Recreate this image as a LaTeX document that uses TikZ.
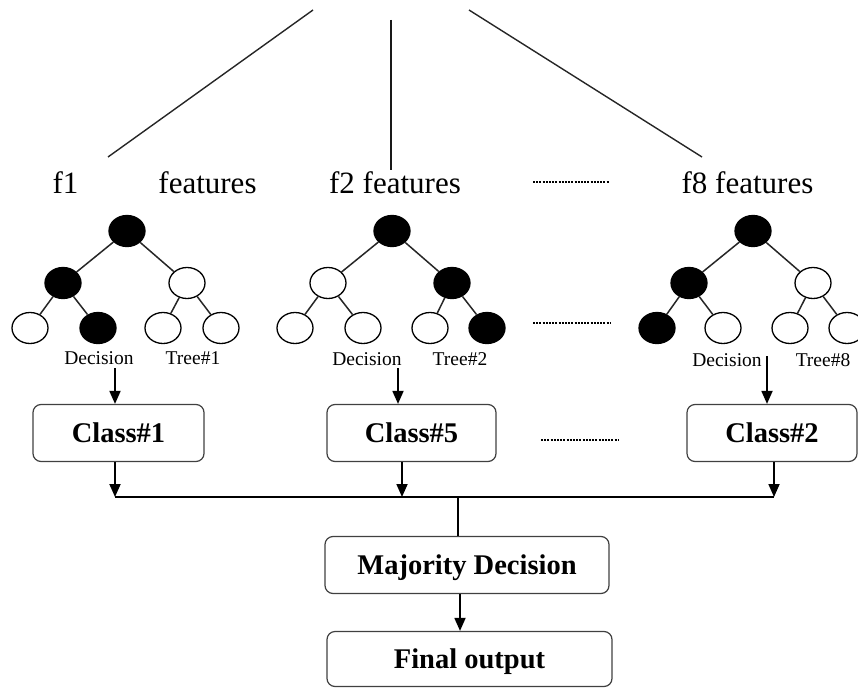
\documentclass[tikz,border=0pt]{standalone}
\usepackage{fontspec}
\setmainfont{Liberation Serif}
\usetikzlibrary{shapes.geometric,arrows.meta}

\tikzset{
  leaf/.style={ellipse, draw=black, line width=1.3pt, fill=white,
    minimum width=36pt, minimum height=31pt, inner sep=0pt},
  hit/.style={leaf, fill=black},
  branch/.style={line width=1.5pt, black!85},
  spoke/.style={line width=1.4pt, black!85},
  stem/.style={line width=1.1pt, black!90},
  title/.style={font=\fontsize{31}{34}\selectfont, anchor=base, inner sep=0pt},
  tag/.style={font=\fontsize{19.5}{21}\selectfont, anchor=base, inner sep=0pt},
  stage/.style={draw=black!75, line width=1.2pt, rounded corners=8pt,
    font=\bfseries\fontsize{28.5}{30}\selectfont, text height=19pt, text depth=0pt,
    inner sep=0pt, minimum height=57pt},
  flow/.style={line width=1.8pt, -{Triangle[length=13pt,width=11pt]}},
  bus/.style={line width=1.4pt},
  etc/.style={line width=1.8pt, dash pattern=on 2pt off 1.2pt},
}

\begin{document}
\begin{tikzpicture}[x=1pt, y=-1pt]
\useasboundingbox (0,0) rectangle (858,687);

% feature-subset lines fanning out from the data set
\coordinate (s1) at (313,10);
\coordinate (e1) at (108,157);
\coordinate (s2) at (391,20);
\coordinate (e2) at (391,170);
\coordinate (s3) at (469,10);
\coordinate (e3) at (702,157);
\draw[spoke] (s1) -- (e1);
\draw[stem] (s2) -- (e2);
\draw[spoke] (s3) -- (e3);

% subset titles
\node[title] (f1a) at (65.5,193) {f1};
\node[title] (f1b) at (207.5,193) {features};
\node[title] (f2t) at (395,193) {f2 features};
\node[title] (f8t) at (747.5,193) {f8 features};

% tree 1
\node[hit]  (t1r)  at (127,231) {};
\node[hit]  (t1l)  at (63,283) {};
\node[leaf] (t1rr) at (187,283) {};
\node[leaf] (t1a)  at (30,328) {};
\node[hit]  (t1b)  at (98,328) {};
\node[leaf] (t1c)  at (163,328) {};
\node[leaf] (t1d)  at (221,328) {};
\draw[branch] (t1r) -- (t1l);
\draw[branch] (t1r) -- (t1rr);
\draw[branch] (t1l) -- (t1a);
\draw[branch] (t1l) -- (t1b);
\draw[branch] (t1rr) -- (t1c);
\draw[branch] (t1rr) -- (t1d);
\node[tag] (d1) at (99,364) {Decision};
\node[tag] (n1) at (193,364) {Tree\#1};

% tree 2
\node[hit]  (t2r)  at (392,231) {};
\node[leaf] (t2l)  at (328,283) {};
\node[hit]  (t2rr) at (452,283) {};
\node[leaf] (t2a)  at (295,328) {};
\node[leaf] (t2b)  at (363,328) {};
\node[leaf] (t2c)  at (430,328) {};
\node[hit]  (t2d)  at (487,328) {};
\draw[branch] (t2r) -- (t2l);
\draw[branch] (t2r) -- (t2rr);
\draw[branch] (t2l) -- (t2a);
\draw[branch] (t2l) -- (t2b);
\draw[branch] (t2rr) -- (t2c);
\draw[branch] (t2rr) -- (t2d);
\node[tag] (d2) at (367,365) {Decision};
\node[tag] (n2) at (460,365) {Tree\#2};

% tree 8
\node[hit]  (t8r)  at (753,231) {};
\node[hit]  (t8l)  at (689,283) {};
\node[leaf] (t8rr) at (813,283) {};
\node[hit]  (t8a)  at (657,328) {};
\node[leaf] (t8b)  at (723,328) {};
\node[leaf] (t8c)  at (790,328) {};
\node[leaf] (t8d)  at (847,328) {};
\draw[branch] (t8r) -- (t8l);
\draw[branch] (t8r) -- (t8rr);
\draw[branch] (t8l) -- (t8a);
\draw[branch] (t8l) -- (t8b);
\draw[branch] (t8rr) -- (t8c);
\draw[branch] (t8rr) -- (t8d);
\node[tag] (d8) at (727,366) {Decision};
\node[tag] (n8) at (823,366) {Tree\#8};

% elided trees
\coordinate (g1a) at (533,182);
\coordinate (g1b) at (609,182);
\coordinate (g2a) at (533,323);
\coordinate (g2b) at (610,323);
\coordinate (g3a) at (541,440);
\coordinate (g3b) at (618,440);
\draw[etc] (g1a) -- (g1b);
\draw[etc] (g2a) -- (g2b);
\draw[etc] (g3a) -- (g3b);

% class votes
\node[stage, minimum width=171pt] (c1) at (118.5,433) {Class\#1};
\node[stage, minimum width=169pt] (c5) at (411.5,433) {Class\#5};
\node[stage, minimum width=170pt] (c2) at (772,433) {Class\#2};

\coordinate (a1) at (115,368);
\coordinate (a2) at (398,368);
\coordinate (a8) at (767,356);
\draw[flow] (a1) -- (a1 |- c1.north);
\draw[flow] (a2) -- (a2 |- c5.north);
\draw[flow] (a8) -- (a8 |- c2.north);

% collecting bus
\coordinate (b1) at (115,497);
\coordinate (b2) at (402,497);
\coordinate (b3) at (774,497);
\coordinate (bm) at (458,497);
\draw[flow] (b1 |- c1.south) -- (b1);
\draw[flow] (b2 |- c5.south) -- (b2);
\draw[flow] (b3 |- c2.south) -- (b3);
\draw[bus] (b1) -- (b3);

% voting and result
\node[stage, minimum width=284pt] (maj) at (467,565) {Majority Decision};
\node[stage, minimum width=285pt, minimum height=55pt] (fin) at (469.5,659) {Final output};
\draw[bus] (bm) -- (bm |- maj.north);
\coordinate (m1) at (460,565);
\draw[flow] (m1 |- maj.south) -- (m1 |- fin.north);
\end{tikzpicture}
\end{document}
